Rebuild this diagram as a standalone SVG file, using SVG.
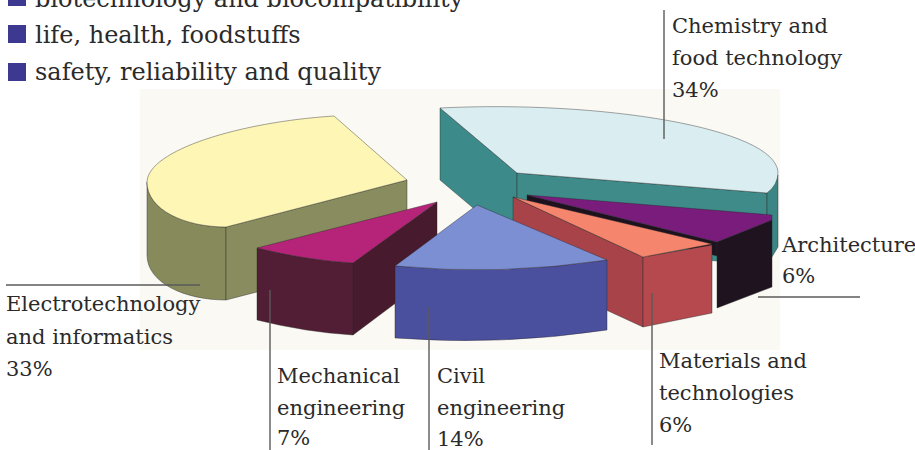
<svg xmlns="http://www.w3.org/2000/svg" width="915" height="450" viewBox="0 0 915 450">
<style>
  .t { font-family: "DejaVu Serif", "Liberation Serif", serif; fill: #2b2a2a; }
  .lg { font-size: 24px; }
  .lb { font-size: 21px; }
  .sq { fill: #3d3990; }
  .ed { stroke: #2a2a2a; stroke-width: 0.7; stroke-linejoin: round; stroke-opacity: 0.6; }
  .ln { stroke: #5a5a5a; stroke-width: 1.4; fill: none; }
</style>
<rect width="915" height="450" fill="#ffffff"/>
<rect id="chart-bg" x="140" y="89" width="640" height="261" fill="#fbf9f4"/>

<g id="legend">
  <g id="legend-1"><rect class="sq" x="8" y="-12" width="18" height="18"/><text class="t lg" x="35" y="7">biotechnology and biocompatibility</text></g>
  <g id="legend-2"><rect class="sq" x="8" y="25" width="18" height="18"/><text class="t lg" x="35" y="43">life, health, foodstuffs</text></g>
  <g id="legend-3"><rect class="sq" x="8" y="63" width="18" height="18"/><text class="t lg" x="35" y="80">safety, reliability and quality</text></g>
</g>

<g id="slice-electro">
  <path class="ed" fill="#878b5c" d="M147,182 C147,210 185,227 226,227 L226,300 C185,300 147,283 147,255 Z"/>
  <path class="ed" fill="#888c5e" d="M226,227 L407,180 L407,253 L226,300 Z"/>
  <path class="ed" fill="#fdf6b4" d="M147,182 C148,150 240,122 334,116 L407,180 L226,227 C185,227 147,210 147,182 Z"/>
</g>

<g id="slice-chemistry">
  <path class="ed" fill="#3d8a8a" d="M440,108 L517,173 L517,245 L440,180 Z"/>
  <path class="ed" fill="#3f8b8a" d="M517,173 L767,193 L767,265 L517,245 Z"/>
  <path class="ed" fill="#3b8585" d="M767,193 L778,175 L778,247 L767,265 Z"/>
  <path class="ed" fill="#daeef2" d="M440,108 C600,100 775,128 778,172 Q778,185 767,193 L517,173 Z"/>
</g>

<g id="slice-architecture">
  <path class="ed" fill="#1e121f" d="M527,195 L717,242 L717,256 L527,206 Z"/>
  <path class="ed" fill="#1f131f" d="M717,242 L772,220 L772,287 L717,308 Z"/>
  <path class="ed" fill="#7a1c7c" d="M527,195 L772,215 L772,220 L717,242 Z"/>
</g>

<g id="slice-materials">
  <path class="ed" fill="#a9434a" d="M513,197 L643,257 L643,327 L513,267 Z"/>
  <path class="ed" fill="#b6494d" d="M643,257 L712,245 L712,313 L643,327 Z"/>
  <path class="ed" fill="#f6856e" d="M513,197 L712,244 L643,257 Z"/>
</g>

<g id="slice-mechanical">
  <path class="ed" fill="#471a2d" d="M353,263 L437,202 L437,272 L353,335 Z"/>
  <path class="ed" fill="#521e35" d="M257,248 Q305,260 353,263 L353,335 Q305,332 257,320 Z"/>
  <path class="ed" fill="#b6247a" d="M257,248 L437,202 L353,263 Q305,260 257,248 Z"/>
</g>

<g id="slice-civil">
  <path class="ed" fill="#4a4f9e" d="M395,266 Q500,276 607,260 L607,330 Q500,346 395,338 Z"/>
  <path class="ed" fill="#7c8fd3" d="M395,266 L477,205 L607,260 Q500,276 395,266 Z"/>
</g>

<g id="connectors">
  <line class="ln" x1="664" y1="10" x2="664" y2="139"/>
  <line class="ln" x1="6" y1="285" x2="200" y2="285"/>
  <line class="ln" x1="270" y1="290" x2="270" y2="450"/>
  <line class="ln" x1="429" y1="307" x2="429" y2="450"/>
  <line class="ln" x1="652" y1="293" x2="652" y2="445"/>
  <line class="ln" x1="758" y1="297" x2="860" y2="297"/>
</g>

<g id="label-chemistry"><text class="t lb" x="672"><tspan x="672" y="33">Chemistry and</tspan><tspan x="672" y="65">food technology</tspan><tspan x="672" y="97">34%</tspan></text></g>
<g id="label-architecture"><text class="t lb" x="782"><tspan x="782" y="252">Architecture</tspan><tspan x="782" y="283">6%</tspan></text></g>
<g id="label-electro"><text class="t lb" x="6"><tspan x="6" y="311">Electrotechnology</tspan><tspan x="6" y="344">and informatics</tspan><tspan x="6" y="376">33%</tspan></text></g>
<g id="label-mechanical"><text class="t lb" x="277"><tspan x="277" y="383">Mechanical</tspan><tspan x="277" y="415">engineering</tspan><tspan x="277" y="445">7%</tspan></text></g>
<g id="label-civil"><text class="t lb" x="437"><tspan x="437" y="383">Civil</tspan><tspan x="437" y="415">engineering</tspan><tspan x="437" y="446">14%</tspan></text></g>
<g id="label-materials"><text class="t lb" x="659"><tspan x="659" y="368">Materials and</tspan><tspan x="659" y="400">technologies</tspan><tspan x="659" y="432">6%</tspan></text></g>
</svg>
